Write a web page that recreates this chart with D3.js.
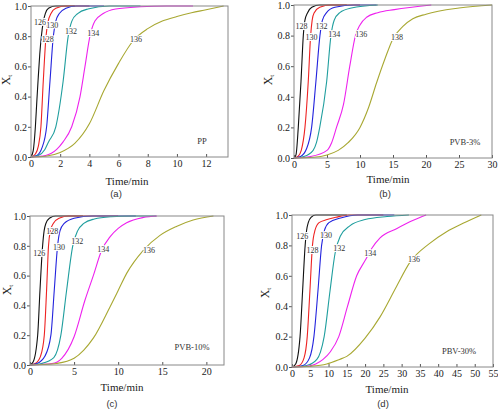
<!DOCTYPE html>
<html>
<head>
<meta charset="utf-8">
<script src="https://cdn.jsdelivr.net/npm/d3@7"></script>
<style>
  body { margin: 0; background: #fff; }
  svg { display: block; }
</style>
</head>
<body>
<div id="chart"></div>
<script>
// curve temperatures per panel
var tempsPP = ['126', '128', '130', '132', '134', '136'];
var tempsPVB3 = ['128', '130', '132', '134', '136', '138'];
var tempsPVB10 = ['126', '128', '130', '132', '134', '136'];
var tempsPBV30 = ['126', '128', '130', '132', '134', '136'];

// [time (min), Xt]
var curvesPP = [
    [[0,0],[0.15,0.04],[0.3,0.2],[0.4,0.37],[0.48,0.5],[0.6,0.68],[0.71,0.8],[0.85,0.9],[0.98,0.95],[1.2,0.985],[1.7,1],[3,1]],
    [[0,0],[0.3,0.02],[0.5,0.07],[0.68,0.2],[0.84,0.5],[1.03,0.8],[1.18,0.9],[1.37,0.95],[1.7,0.985],[2.4,1],[4,1]],
    [[0,0],[0.4,0.01],[0.75,0.06],[1.07,0.2],[1.3,0.5],[1.53,0.8],[1.7,0.9],[1.94,0.95],[2.4,0.985],[3.1,1],[5,1]],
    [[0,0],[0.5,0.01],[0.95,0.05],[1.2,0.1],[1.7,0.2],[2.2,0.5],[2.55,0.8],[2.8,0.9],[3.2,0.95],[3.9,0.98],[5.4,1],[7.5,1]],
    [[0,0],[1.0,0.01],[1.76,0.05],[2.2,0.1],[2.79,0.2],[3.36,0.4],[3.7,0.6],[4.04,0.8],[4.38,0.9],[4.95,0.95],[5.8,0.98],[7.5,0.995],[9.3,1],[11.1,1]],
    [[0,0],[1,0.005],[2,0.03],[3,0.09],[4,0.22],[5,0.44],[6,0.62],[7,0.77],[8,0.85],[9,0.9],[10,0.93],[11,0.955],[12,0.975],[13.2,1]]
];
var curvesPVB3 = [
    [[0,0],[0.3,0.02],[0.65,0.2],[1.06,0.5],[1.41,0.8],[1.65,0.9],[2.06,0.95],[2.7,0.985],[3.9,1],[8,1]],
    [[0,0],[0.6,0.01],[1.1,0.05],[1.66,0.2],[2.16,0.5],[2.52,0.8],[2.75,0.9],[3.07,0.95],[3.9,0.985],[5.6,1],[10,1]],
    [[0,0],[1.0,0.01],[1.9,0.06],[2.67,0.2],[3.32,0.5],[3.93,0.8],[4.3,0.9],[4.93,0.95],[6.2,0.985],[9.2,1],[12.5,1]],
    [[0,0],[1.5,0.01],[2.9,0.05],[3.4,0.1],[3.9,0.2],[4.95,0.5],[5.6,0.8],[6.09,0.9],[6.94,0.95],[8.7,0.98],[12.7,1]],
    [[0,0],[2.5,0.01],[5,0.05],[5.7,0.1],[6.44,0.2],[7.5,0.35],[8.45,0.6],[9.31,0.8],[10,0.87],[11,0.92],[12.7,0.95],[15.2,0.97],[20.8,1]],
    [[0,0],[3,0.005],[5,0.02],[6.7,0.05],[8.2,0.1],[10,0.2],[11.3,0.33],[12.5,0.49],[13.8,0.65],[15,0.78],[16.5,0.86],[18,0.91],[20,0.94],[25,0.98],[30,1]]
];
var curvesPVB10 = [
    [[0,0],[0.35,0.02],[0.87,0.2],[1.13,0.5],[1.43,0.8],[1.6,0.9],[1.8,0.95],[2.2,0.985],[2.9,1],[6,1]],
    [[0,0],[0.6,0.01],[1.2,0.06],[1.62,0.2],[1.88,0.5],[2.1,0.8],[2.3,0.9],[2.64,0.95],[3.3,0.985],[4.4,1],[10,1]],
    [[0,0],[0.8,0.01],[1.7,0.06],[2.37,0.2],[2.75,0.5],[3.13,0.8],[3.4,0.9],[3.88,0.95],[5,0.985],[7.1,1],[12,1]],
    [[0,0],[1.3,0.01],[2.7,0.05],[3.5,0.2],[4.15,0.5],[4.85,0.8],[5.4,0.9],[6.1,0.95],[7.3,0.98],[9.2,0.995],[11.6,1],[14.3,1]],
    [[0,0],[2.5,0.01],[3.6,0.045],[5,0.19],[6.24,0.436],[7.18,0.6],[8.13,0.77],[9.07,0.86],[10,0.917],[10.96,0.955],[12.85,0.99],[14.4,1]],
    [[0,0],[1.5,0.003],[3,0.01],[5,0.045],[6.1,0.1],[7.18,0.18],[9.07,0.39],[10,0.5],[10.96,0.615],[12.85,0.77],[14.74,0.87],[16.6,0.93],[18.5,0.973],[20.8,1]]
];
var curvesPBV30 = [
    [[0,0],[1.0,0.02],[2.2,0.2],[2.9,0.5],[3.6,0.8],[4.0,0.9],[4.45,0.95],[5.2,0.985],[6.5,1],[15,1]],
    [[0,0],[2.0,0.01],[3.3,0.06],[4.17,0.2],[4.9,0.5],[5.6,0.8],[6.3,0.9],[7.4,0.95],[9.6,0.97],[12,0.985],[15.4,1],[25,1]],
    [[0,0],[3,0.01],[4.8,0.06],[6.0,0.2],[7.1,0.5],[8.1,0.8],[8.9,0.9],[10.1,0.95],[13.3,0.98],[18,1],[28,1]],
    [[0,0],[4,0.01],[6.8,0.05],[7.8,0.1],[8.8,0.2],[10.4,0.5],[11.8,0.75],[13.2,0.86],[15.9,0.93],[20,0.97],[26,0.99],[32,1]],
    [[0,0],[4,0.005],[6.5,0.02],[8.5,0.05],[10.5,0.1],[12.8,0.2],[15.2,0.4],[17.7,0.6],[20,0.7],[21.8,0.78],[24.1,0.85],[28.6,0.91],[33.2,0.965],[36.7,1]],
    [[0,0],[5,0.005],[9.5,0.02],[13,0.05],[15,0.07],[20,0.19],[24.1,0.33],[28.6,0.53],[32.3,0.69],[37.5,0.81],[42.3,0.89],[46.8,0.945],[51.8,1]]
];

// where each temperature label sits, [time, Xt]
var labelsPP = [[0.62,0.89],[1.14,0.78],[1.45,0.87],[2.74,0.83],[4.27,0.82],[7.2,0.78]];
var labelsPVB3 = [[1.15,0.86],[2.66,0.79],[4.17,0.86],[6.09,0.81],[10.2,0.81],[15.6,0.79]];
var labelsPVB10 = [[1.05,0.75],[2.53,0.9],[3.29,0.79],[5.36,0.83],[8.31,0.78],[13.5,0.77]];
var labelsPBV30 = [[2.81,0.86],[5.62,0.77],[9.28,0.87],[12.9,0.78],[21.4,0.75],[33.4,0.71]];

var xTicksPP = [0, 2, 4, 6, 8, 10, 12];
var xTicksPVB3 = [0, 5, 10, 15, 20, 25, 30];
var xTicksPVB10 = [0, 5, 10, 15, 20];
var xTicksPBV30 = [0, 5, 10, 15, 20, 25, 30, 35, 40, 45, 50, 55];
var yTicks = [0, 0.2, 0.4, 0.6, 0.8, 1.0];

var colors = ['#111111', '#ee2222', '#2323dd', '#1f9e9e', '#ee22ee', '#a8a832'];
var serif = '"Liberation Serif", "Times New Roman", serif';

var panels = [
    { curves: curvesPP, temps: tempsPP, labels: labelsPP, xMax: 13.5, xTicks: xTicksPP, name: 'PP', tag: '(a)',
      left: 31, right: 228, top: 6, bottom: 157, nameX: 202, nameY: 141, titleX: 127, titleY: 185, tagX: 116, tagY: 197, ylX: 6, ylY: 80 },
    { curves: curvesPVB3, temps: tempsPVB3, labels: labelsPVB3, xMax: 30, xTicks: xTicksPVB3, name: 'PVB-3%', tag: '(b)',
      left: 294, right: 492, top: 5, bottom: 158, nameX: 465, nameY: 142, titleX: 388, titleY: 183, tagX: 385, tagY: 197, ylX: 268, ylY: 80 },
    { curves: curvesPVB10, temps: tempsPVB10, labels: labelsPVB10, xMax: 22, xTicks: xTicksPVB10, name: 'PVB-10%', tag: '(c)',
      left: 30, right: 224, top: 216, bottom: 365, nameX: 192, nameY: 347, titleX: 122, titleY: 391, tagX: 112, tagY: 407, ylX: 7, ylY: 290 },
    { curves: curvesPBV30, temps: tempsPBV30, labels: labelsPBV30, xMax: 55, xTicks: xTicksPBV30, name: 'PBV-30%', tag: '(d)',
      left: 292, right: 493, top: 215, bottom: 367, nameX: 459, nameY: 351, titleX: 387, titleY: 393, tagX: 383, tagY: 407, ylX: 265, ylY: 293 }
];

var svg = d3.select('#chart')
    .append('svg')
    .attr('width', 498)
    .attr('height', 409);

panels.forEach(function(p) {
    var x = d3.scaleLinear().domain([0, p.xMax]).range([p.left, p.right]);
    var y = d3.scaleLinear().domain([0, 1]).range([p.bottom, p.top]);
    var g = svg.append('g');

    // x axis, ticks pointing in
    var xa = g.append('g')
        .attr('transform', 'translate(0,' + p.bottom + ')')
        .call(d3.axisBottom(x).tickValues(p.xTicks).tickSize(-3).tickPadding(3).tickFormat(d3.format('d')));
    // y axis, ticks pointing out
    var ya = g.append('g')
        .attr('transform', 'translate(' + p.left + ',0)')
        .call(d3.axisLeft(y).tickValues(yTicks).tickSize(3).tickPadding(1).tickFormat(d3.format('.1f')));
    [xa, ya].forEach(function(a) {
        a.select('.domain').remove();
        a.selectAll('line').attr('stroke', '#555');
        a.selectAll('text').style('font-family', serif).style('font-size', '10px').attr('fill', '#222');
    });

    var line = d3.line()
        .x(function(d) { return x(d[0]); })
        .y(function(d) { return y(d[1]); })
        .curve(d3.curveMonotoneX);

    g.selectAll('path.curve')
        .data(p.curves)
        .enter()
        .append('path')
            .attr('class', 'curve')
            .attr('d', line)
            .attr('fill', 'none')
            .attr('stroke', function(d, i) { return colors[i]; })
            .attr('stroke-width', 1.1);

    // frame
    g.append('rect')
        .attr('x', p.left)
        .attr('y', p.top)
        .attr('width', p.right - p.left)
        .attr('height', p.bottom - p.top)
        .attr('fill', 'none')
        .attr('stroke', '#888')
        .attr('stroke-width', 1);

    g.selectAll('text.temp')
        .data(p.labels)
        .enter()
        .append('text')
            .attr('class', 'temp')
            .attr('x', function(d) { return x(d[0]); })
            .attr('y', function(d) { return y(d[1]); })
            .attr('dy', '0.35em')
            .attr('text-anchor', 'middle')
            .style('font-family', serif)
            .style('font-size', '8px')
            .attr('fill', '#333')
            .attr('stroke', '#fff')
            .attr('stroke-width', 2)
            .attr('paint-order', 'stroke')
            .text(function(d, i) { return p.temps[i]; });

    g.append('text')
        .attr('x', p.nameX)
        .attr('y', p.nameY)
        .attr('dy', '0.35em')
        .attr('text-anchor', 'middle')
        .style('font-family', serif)
        .style('font-size', '8.5px')
        .attr('fill', '#333')
        .text(p.name);

    g.append('text')
        .attr('x', p.titleX)
        .attr('y', p.titleY)
        .attr('text-anchor', 'middle')
        .style('font-family', serif)
        .style('font-size', '11px')
        .attr('fill', '#222')
        .text('Time/min');

    g.append('text')
        .attr('x', p.tagX)
        .attr('y', p.tagY)
        .attr('text-anchor', 'middle')
        .style('font-family', '"Liberation Sans", Arial, sans-serif')
        .style('font-size', '9.5px')
        .attr('fill', '#333')
        .text(p.tag);

    var yl = g.append('text')
        .attr('transform', 'translate(' + p.ylX + ',' + p.ylY + ') rotate(-90)')
        .attr('text-anchor', 'middle')
        .attr('dy', '0.35em')
        .style('font-family', serif)
        .style('font-size', '12px')
        .attr('fill', '#222');
    yl.append('tspan').text('X');
    yl.append('tspan').attr('dy', '0.3em').style('font-size', '7px').text('t');
});
</script>
</body>
</html>
